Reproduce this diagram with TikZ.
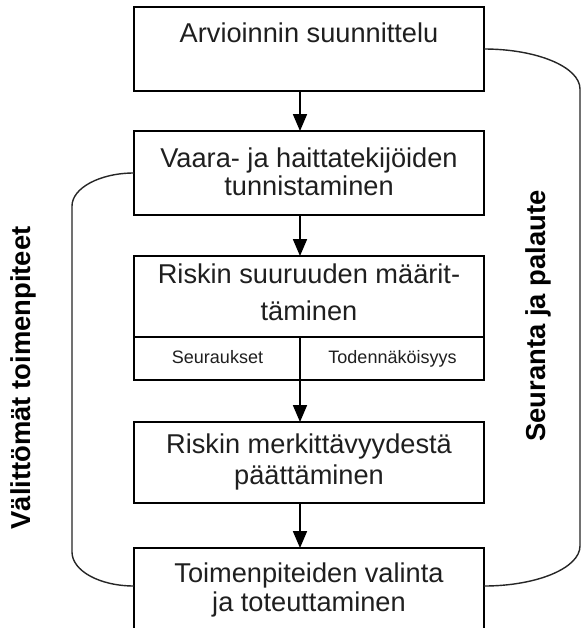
\documentclass[tikz,border=0pt]{standalone}
\usepackage{fontspec}
\setmainfont{Liberation Sans}
\usetikzlibrary{arrows.meta}
\begin{document}
\begin{tikzpicture}[x=0.5pt,y=-0.5pt,
  box/.style={draw, line width=1pt, minimum width=175pt, anchor=north west,
    inner sep=0pt, outer sep=0pt},
  maintext/.style={anchor=base, inner sep=0pt, text=black!88,
    font=\fontsize{13.6pt}{16pt}\selectfont},
  smalltext/.style={anchor=base, inner sep=0pt, text=black!88,
    font=\fontsize{9pt}{11pt}\selectfont},
  sidetext/.style={inner sep=0pt, rotate=90,
    font=\fontsize{13.7pt}{16pt}\selectfont\bfseries},
  arr/.style={line width=0.9pt, -{Triangle[length=8.5pt, width=7pt]}},
  loopline/.style={line width=0.7pt, draw=black!85},
]
\useasboundingbox (0,0) rectangle (582,628);
\clip (0,0) rectangle (582,628);
\fill[white] (0,0) rectangle (582,628);

% process boxes
\node[box, minimum height=42pt]   (b1) at (134,7)   {};
\node[box, minimum height=42pt]   (b2) at (134,131) {};
\node[box, minimum height=62pt]   (b3) at (134,256) {};
\node[box, minimum height=40.5pt] (b4) at (134,422) {};
\node[box, minimum height=46pt]   (b5) at (134,548) {};

% split lower part of the risk box
\draw[line width=1pt] ([yshift=21.5pt]b3.south west) -- ([yshift=21.5pt]b3.south east);
\draw[line width=1pt] ([xshift=-4.5pt,yshift=21.5pt]b3.south) -- ([xshift=-4.5pt]b3.south);

% box texts
\node[maintext] (t1)  at (309,42)  {Arvioinnin suunnittelu};
\node[maintext] (t2a) at (309,167) {Vaara- ja haittatekijöiden};
\node[maintext] (t2b) at (309,195) {tunnistaminen};
\node[maintext] (t3a) at (309,283) {Riskin suuruuden määrit-};
\node[maintext] (t3b) at (309,320) {täminen};
\node[smalltext] (t3c) at (217.5,363) {Seuraukset};
\node[smalltext] (t3d) at (392.5,363) {Todennäköisyys};
\node[maintext] (t4a) at (309,453) {Riskin merkittävyydestä};
\node[maintext] (t4b) at (309,484) {päättäminen};
\node[maintext] (t5a) at (309,582) {Toimenpiteiden valinta};
\node[maintext] (t5b) at (309,611) {ja toteuttaminen};

% flow arrows
\draw[arr] ([xshift=-4.5pt]b1.south) -- ([xshift=-4.5pt]b2.north);
\draw[arr] ([xshift=-4.5pt]b2.south) -- ([xshift=-4.5pt]b3.north);
\draw[arr] ([xshift=-4.5pt]b3.south) -- ([xshift=-4.5pt]b4.north);
\draw[arr] ([xshift=-4.5pt]b4.south) -- ([xshift=-4.5pt]b5.north);

% feedback loops
\draw[loopline] (b2.west) .. controls +(-34,0) and +(0,-18) .. ++(-62,33)
  -- ++(0,346) .. controls +(0,19) and +(-34,0) .. ([yshift=4pt]b5.west);
\draw[loopline] (b1.east) .. controls +(53,0) and +(0,-22) .. ++(96,40)
  -- ++(0,457) .. controls +(0,22) and +(53,0) .. ([yshift=4pt]b5.east);

% loop labels
\node[sidetext] (l1) at (23,378)  {Välittömät toimenpiteet};
\node[sidetext] (l2) at (538,316) {Seuranta ja palaute};
\end{tikzpicture}
\end{document}
